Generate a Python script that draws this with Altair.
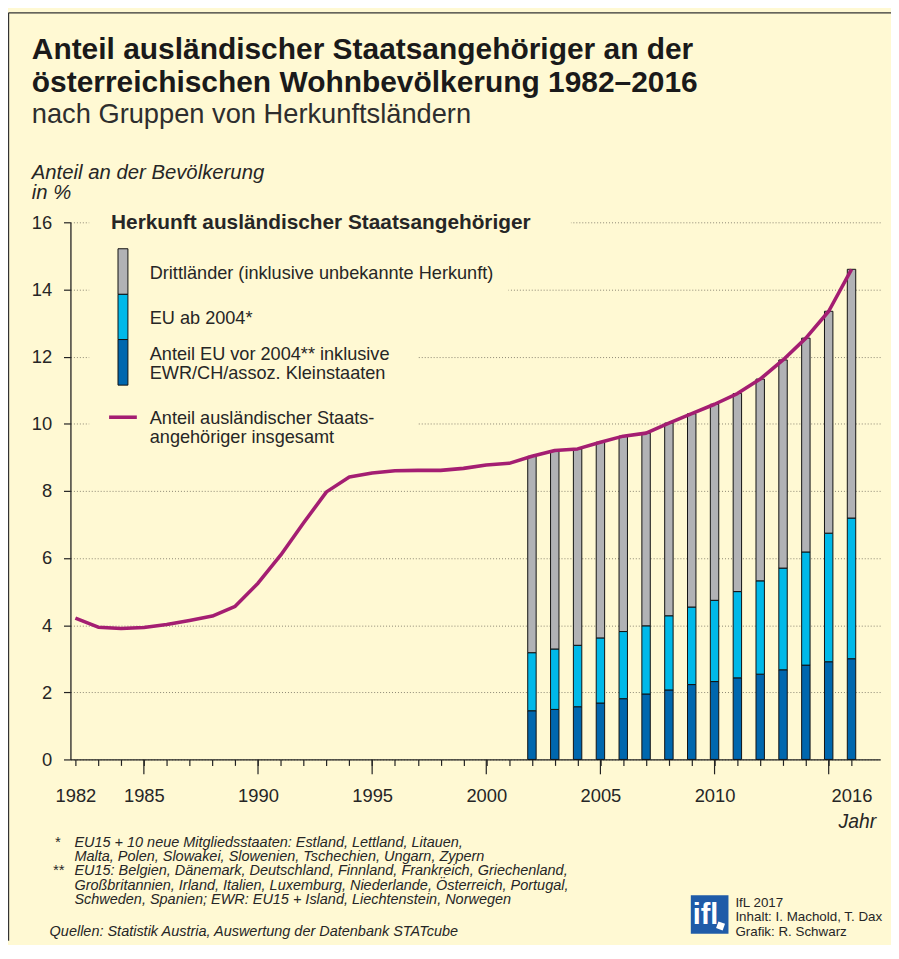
import altair as alt
import pandas as pd

# ---------------- data ----------------
line_years = list(range(1982, 2017))
anteil_insgesamt = [4.21, 3.94, 3.90, 3.93, 4.02, 4.14, 4.27, 4.56, 5.25, 6.09,
                    7.05, 7.97, 8.41, 8.53, 8.60, 8.61, 8.61, 8.67, 8.77, 8.82,
                    9.03, 9.20, 9.25, 9.45, 9.63, 9.72, 10.02, 10.30, 10.58, 10.90,
                    11.33, 11.90, 12.55, 13.35, 14.60]

bar_years = list(range(2002, 2017))
eu_vor_2004 = [1.45, 1.49, 1.57, 1.68, 1.81, 1.95, 2.07, 2.23, 2.32, 2.43, 2.54, 2.67, 2.81, 2.91, 3.00]
eu_ab_2004 = [1.73, 1.80, 1.83, 1.94, 2.00, 2.03, 2.21, 2.31, 2.42, 2.57, 2.78, 3.03, 3.37, 3.83, 4.19]
drittlaender = [5.85, 5.91, 5.85, 5.83, 5.82, 5.74, 5.74, 5.76, 5.84, 5.90, 6.01, 6.20, 6.37, 6.61, 7.41]

gruppen = ["EU vor 2004", "EU ab 2004", "Drittländer"]
label_years = [1982, 1985, 1990, 1995, 2000, 2005, 2010, 2016]
major_tick_years = [1985, 1990, 1995, 2000, 2005, 2010, 2015]
y_ticks = [0, 2, 4, 6, 8, 10, 12, 14, 16]

# ---------------- style ----------------
FONT = "Liberation Sans"
CREAM = "#FFF9D3"
C_DARK = "#0067AE"
C_CYAN = "#00B9E9"
C_GRAY = "#B1B2B5"
C_MAG = "#A41E72"
TXT = "#262626"
LOGO = "#1F5BA8"

W, H = 817, 542
OX, OY = 71, 220  # page position of plot origin


def px(x):
    return x - OX


def py(y):
    return y - OY


rows = []
for i, yr in enumerate(bar_years):
    for k, (g, vals) in enumerate(zip(gruppen, [eu_vor_2004, eu_ab_2004, drittlaender])):
        rows.append({"Jahr": yr, "Gruppe": g, "Anteil": vals[i], "ord": k})
bars_df = pd.DataFrame(rows)
line_df = pd.DataFrame({"Jahr": line_years, "Anteil": anteil_insgesamt})
major_df = pd.DataFrame({"Jahr": major_tick_years})

xscale = alt.Scale(domain=[1982, 2017.035], nice=False, zero=False)
yscale = alt.Scale(domain=[0, 16], nice=False)

label_list = ",".join(str(v) for v in label_years)
xaxis = alt.Axis(values=line_years, tickSize=6, tickWidth=1.2, tickColor="#222",
                 domainColor="#222", domainWidth=1.3, grid=False, title=None,
                 format="d", labelExpr=f"indexof([{label_list}], datum.value) >= 0 ? datum.label : ''",
                 labelPadding=21, labelFont=FONT, labelFontSize=18.5, labelColor=TXT,
                 labelOverlap=False, labelFlush=False, labelBound=False)
yaxis = alt.Axis(values=y_ticks, tickSize=7, tickWidth=1.2, tickColor="#222",
                 domainColor="#222", domainWidth=1.3, grid=True, gridDash=[1, 2],
                 gridColor="#8b8672", gridWidth=1, title=None, format="d",
                 labelPadding=12, labelFont=FONT, labelFontSize=18.5, labelColor=TXT)

dummy = alt.Data(values=[{"a": 1}])


def txt(s, x, y, size, weight="normal", style="normal", align="left", color=TXT):
    return alt.Chart(dummy).mark_text(
        text=s, font=FONT, fontSize=size, fontWeight=weight, fontStyle=style,
        align=align, baseline="alphabetic", color=color
    ).encode(x=alt.value(px(x)), y=alt.value(py(y)))


def rect(x1, x2, y1, y2, fill, stroke=None, sw=0):
    kw = dict(fill=fill, strokeWidth=sw)
    if stroke:
        kw["stroke"] = stroke
    return alt.Chart(dummy).mark_rect(**kw).encode(
        x=alt.value(px(x1)), x2=alt.value(px(x2)), y=alt.value(py(y1)), y2=alt.value(py(y2)))


def hline(x1, x2, y, color, sw):
    return alt.Chart(dummy).mark_rule(color=color, strokeWidth=sw).encode(
        x=alt.value(px(x1)), x2=alt.value(px(x2)), y=alt.value(py(y)))


def vline(x, y1, y2, color, sw):
    return alt.Chart(dummy).mark_rule(color=color, strokeWidth=sw).encode(
        x=alt.value(px(x)), y=alt.value(py(y1)), y2=alt.value(py(y2)))


bars = alt.Chart(bars_df).mark_bar(size=8.5, stroke="#111", strokeWidth=1).encode(
    x=alt.X("Jahr:Q", scale=xscale, axis=xaxis),
    y=alt.Y("Anteil:Q", stack="zero", scale=yscale, axis=yaxis),
    color=alt.Color("Gruppe:N", scale=alt.Scale(domain=gruppen, range=[C_DARK, C_CYAN, C_GRAY]), legend=None),
    order=alt.Order("ord:Q"),
)

line = alt.Chart(line_df).mark_line(color=C_MAG, strokeWidth=3.6, strokeJoin="round").encode(
    x=alt.X("Jahr:Q", scale=xscale, axis=xaxis),
    y=alt.Y("Anteil:Q", scale=yscale, axis=yaxis),
)

major_ticks = alt.Chart(major_df).mark_rule(color="#222", strokeWidth=1.2).encode(
    x=alt.X("Jahr:Q", scale=xscale, axis=xaxis),
    y=alt.value(H), y2=alt.value(H + 15),
)

covers = [
    rect(90, 576, 203, 240, CREAM),
    rect(90, 513, 240, 300, CREAM),
    rect(90, 421, 300, 452, CREAM),
]

legend = [
    txt("Herkunft ausländischer Staatsangehöriger", 112, 227, 21, weight="bold"),
    rect(119, 129, 246.7, 292.7, C_GRAY, "#111", 1),
    rect(119, 129, 292.7, 338.3, C_CYAN, "#111", 1),
    rect(119, 129, 338.3, 384.3, C_DARK, "#111", 1),
    txt("Drittländer (inklusive unbekannte Herkunft)", 151, 277, 18.3),
    txt("EU ab 2004*", 151, 323, 18.3),
    txt("Anteil EU vor 2004** inklusive", 151, 359, 18.3),
    txt("EWR/CH/assoz. Kleinstaaten", 151, 378, 18.3),
    hline(110, 138, 416.7, C_MAG, 3.6),
    txt("Anteil ausländischer Staats-", 151, 424, 18.3),
    txt("angehöriger insgesamt", 151, 443, 18.3),
]

titles = [
    txt("Anteil ausländischer Staatsangehöriger an der", 32, 55.5, 30.2, weight="bold", color="#1a1a1a"),
    txt("österreichischen Wohnbevölkerung 1982–2016", 32, 88.5, 30.2, weight="bold", color="#1a1a1a"),
    txt("nach Gruppen von Herkunftsländern", 32, 120, 27.5, color="#2e2e2e"),
    txt("Anteil an der Bevölkerung", 32, 176, 20.5, style="italic"),
    txt("in %", 32, 196, 20.5, style="italic"),
    txt("Jahr", 884, 831, 19.5, style="italic", align="right"),
]

FS = 14.6
foot = [
    txt("*", 55, 850, FS, style="italic"),
    txt("EU15 + 10 neue Mitgliedsstaaten: Estland, Lettland, Litauen,", 75, 850, FS, style="italic"),
    txt("Malta, Polen, Slowakei, Slowenien, Tschechien, Ungarn, Zypern", 75, 864.5, FS, style="italic"),
    txt("**", 53, 879, FS, style="italic"),
    txt("EU15: Belgien, Dänemark, Deutschland, Finnland, Frankreich, Griechenland,", 75, 879, FS, style="italic"),
    txt("Großbritannien, Irland, Italien, Luxemburg, Niederlande, Österreich, Portugal,", 75, 893.5, FS, style="italic"),
    txt("Schweden, Spanien; EWR: EU15 + Island, Liechtenstein, Norwegen", 75, 908, FS, style="italic"),
    txt("Quellen: Statistik Austria, Auswertung der Datenbank STATcube", 50, 940.5, FS, style="italic"),
    rect(697, 735, 899, 938, LOGO),
    txt("ifl", 699, 928, 29, weight="bold", color="white"),
    alt.Chart(dummy).mark_point(shape="square", filled=True, color="white", size=50, angle=20, opacity=1).encode(
        x=alt.value(px(727)), y=alt.value(py(930))),
    txt("IfL 2017", 742, 910.5, 13.5),
    txt("Inhalt: I. Machold, T. Dax", 742, 925.5, 13.5),
    txt("Grafik: R. Schwarz", 742, 940.5, 13.5),
]

frame = [
    vline(8.6, 8.6, 945, "#333", 1.2),
    hline(8.6, 899, 8.6, "#333", 1.2),
]

chart = alt.layer(
    *covers, bars, line, major_ticks, *legend, *titles, *foot, *frame
).properties(
    width=W, height=H,
    padding={"left": 63, "top": 212, "right": 11, "bottom": 183},
    autosize="none",
    background=CREAM,
).configure_view(stroke=None)

chart.save("out.html", embed_options={"renderer": "svg", "actions": False})
